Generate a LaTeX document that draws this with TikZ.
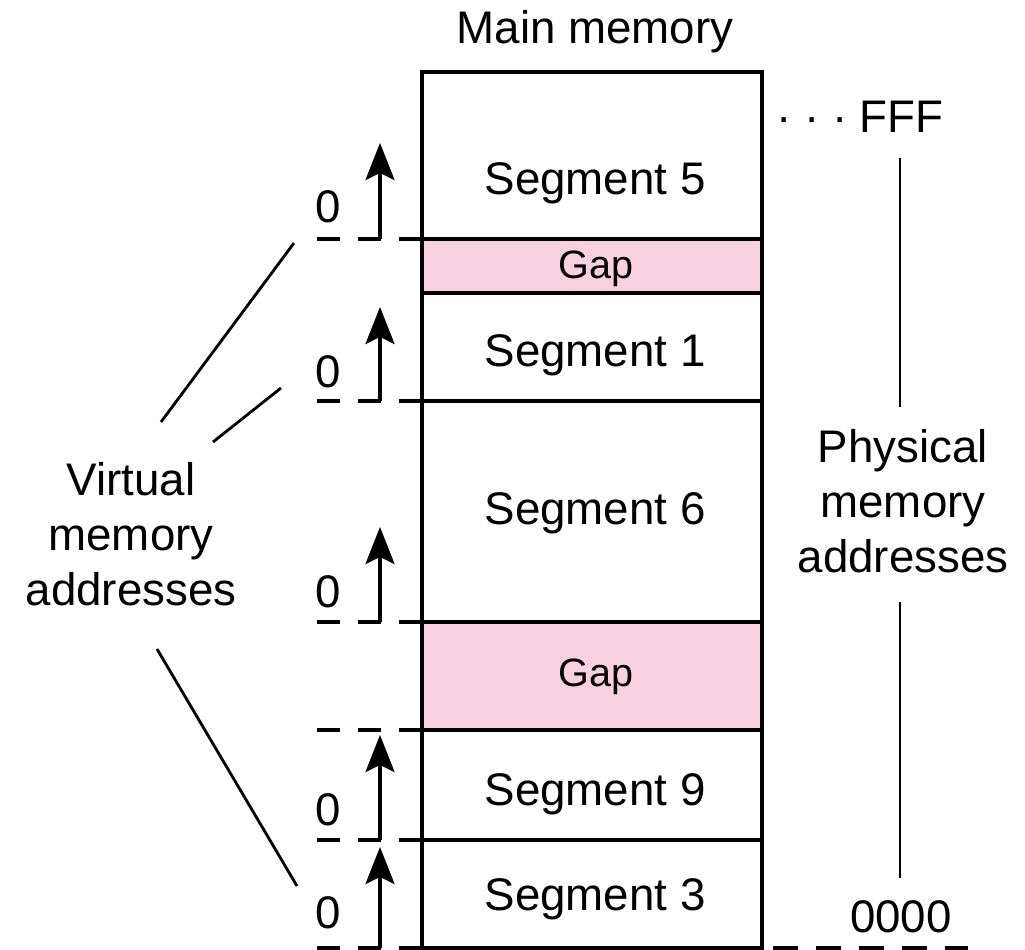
\documentclass[tikz,border=0pt]{standalone}
\usepackage{fontspec}
\setmainfont{Liberation Sans}
\usepackage{xcolor}
\usetikzlibrary{positioning, arrows.meta, calc}
\definecolor{gappink}{HTML}{F8D0DF}

\begin{document}
\begin{tikzpicture}[x=0.02cm, y=-0.02cm,
    bigtxt/.style={font=\fontsize{26}{31.2}\selectfont, inner sep=0pt, anchor=base},
    gaptxt/.style={font=\fontsize{22.5}{27}\selectfont, inner sep=0pt, anchor=base},
    memline/.style={line width=1.8pt},
    tickline/.style={line width=1.8pt, dash pattern=on 0.46cm off 0.36cm},
    upconn/.style={line width=1.8pt, -{Stealth[length=0.74cm, width=0.58cm, inset=0.14cm]}},
    leader/.style={line width=1.6pt},
]
\useasboundingbox (0,0) rectangle (1025,950);

% memory column
\fill[gappink] (422,239) rectangle (762,293);
\fill[gappink] (422,622) rectangle (762,730);
\draw[memline] (422,72) rectangle (762,948);
\foreach \y in {239,293,401,622,730,840}
  \draw[memline] (422,\y) -- (762,\y);

\node[bigtxt] (title) at (595,43) {Main memory};
\node[bigtxt] (seg5) at (595,194) {Segment 5};
\node[gaptxt] (gapA) at (596,278) {Gap};
\node[bigtxt] (seg1) at (595,366) {Segment 1};
\node[bigtxt] (seg6) at (595,524) {Segment 6};
\node[gaptxt] (gapB) at (596,686) {Gap};
\node[bigtxt] (seg9) at (595,805) {Segment 9};
\node[bigtxt] (seg3) at (595,910) {Segment 3};

% segment origins
\foreach \y in {239,401,622,730,840,948}
  \draw[tickline] (317,\y) -- (422,\y);
\foreach \nm/\y in {z5/222, z1/387, z6/607, z9/825, z3/928}
  \node[bigtxt] (\nm) at (328,\y) {0};
\foreach \from/\to in {239/143, 401/307, 622/527, 840/735, 948/847}
  \draw[upconn] (380,\from) -- (380,\to);

% virtual addresses
\node[bigtxt, align=center] (virt) at (131,605) {Virtual\\memory\\addresses};
\coordinate (vA) at (161,422);
\coordinate (vB) at (213,442);
\coordinate (vC) at (157,649);
\draw[leader] (vA) -- (294,243);
\draw[leader] (vB) -- (281,388);
\draw[leader] (vC) -- (297,886);

% physical addresses
\node[bigtxt] (fff) at (860,132) {· · · FFF};
\node[bigtxt] (zero) at (901,932) {0000};
\node[bigtxt, align=center] (phys) at (903,572) {Physical\\memory\\addresses};
\coordinate (pTop) at (900,158);
\coordinate (pMidA) at (900,407);
\coordinate (pMidB) at (900,602);
\coordinate (pBot) at (900,878);
\draw[leader] (pTop) -- (pMidA);
\draw[leader] (pMidB) -- (pBot);
\draw[line width=1.8pt, dash pattern=on 0.5cm off 0.36cm] (773,948) -- (968,948);
\end{tikzpicture}
\end{document}
